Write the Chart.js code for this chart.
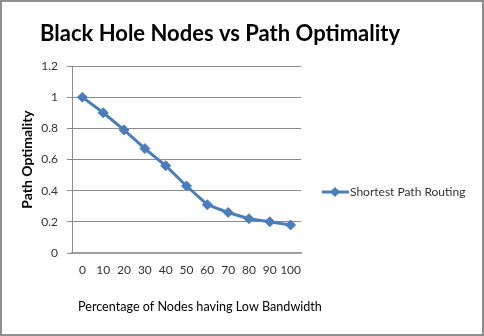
<!DOCTYPE html>
<html>
<head>
<meta charset="utf-8">
<script src="https://cdn.jsdelivr.net/npm/chart.js@4/dist/chart.umd.min.js"></script>
<style>
  html, body { margin: 0; padding: 0; background: #fff; }
  #wrap { width: 484px; height: 336px; box-sizing: border-box; border: 2px solid #8e8e8e; background: #fff; }
  canvas { display: block; }
</style>
</head>
<body>
<div id="wrap"><canvas id="chart" width="480" height="332"></canvas></div>
<script>
const chartTitle = 'Black Hole Nodes vs Path Optimality';
const xTitle = 'Percentage of Nodes having Low Bandwidth';
const yTitle = 'Path Optimality';
const seriesName = 'Shortest Path Routing';
const categories = ['0', '10', '20', '30', '40', '50', '60', '70', '80', '90', '100'];
const optimality = [1.0, 0.9, 0.79, 0.67, 0.56, 0.43, 0.31, 0.26, 0.22, 0.2, 0.18];
const yTickLabels = ['0', '0.2', '0.4', '0.6', '0.8', '1', '1.2'];

const lineColor = '#4a7ebb';
const font = 'Lato';

// chart title, x title and legend are drawn by hand so they sit where the original has them
const textPlugin = {
    id: 'textPlugin',
    afterDraw(chart) {
        const ctx = chart.ctx;
        ctx.save();
        ctx.fillStyle = '#000';
        ctx.font = 'bold 22px ' + font;
        ctx.textBaseline = 'middle';
        ctx.textAlign = 'left';
        ctx.fillText(chartTitle, 38, 32);

        ctx.font = '12.6px ' + font;
        ctx.fillText(xTitle, 76, 305);

        // legend entry
        const ds = chart.data.datasets[0];
        const y = 190;
        ctx.strokeStyle = ds.borderColor;
        ctx.lineWidth = 3;
        ctx.beginPath();
        ctx.moveTo(320, y);
        ctx.lineTo(347, y);
        ctx.stroke();
        ctx.fillStyle = ds.borderColor;
        ctx.beginPath();
        ctx.moveTo(333, y - 5);
        ctx.lineTo(338, y);
        ctx.lineTo(333, y + 5);
        ctx.lineTo(328, y);
        ctx.closePath();
        ctx.fill();
        ctx.fillStyle = '#333';
        ctx.font = '12px ' + font;
        ctx.fillText(ds.label, 348, y);
        ctx.restore();
    }
};

new Chart(document.getElementById('chart'), {
    type: 'line',
    data: {
        labels: categories,
        datasets: [{
            label: seriesName,
            data: optimality,
            borderColor: lineColor,
            backgroundColor: lineColor,
            borderWidth: 3,
            pointStyle: 'rectRot',
            pointRadius: 5,
            pointBorderWidth: 1,
            tension: 0
        }]
    },
    options: {
        responsive: false,
        animation: false,
        layout: { padding: { top: 64, right: 181, bottom: 20, left: 0 } },
        plugins: {
            legend: { display: false },
            title: { display: false },
            tooltip: { enabled: false }
        },
        scales: {
            x: {
                offset: true,
                grid: { display: false, drawTicks: false },
                border: { display: true, color: '#a0a0a0', width: 2 },
                ticks: { padding: 10, color: '#333', font: { family: font, size: 12 }, maxRotation: 0, autoSkip: false },
                afterFit(scale) { scale.height = 61; }
            },
            y: {
                min: 0,
                max: 1.2,
                ticks: {
                    stepSize: 0.2,
                    padding: 9,
                    color: '#333',
                    font: { family: font, size: 12 },
                    callback: (v, i) => yTickLabels[i]
                },
                grid: { color: '#8c8c8c', tickLength: 5, tickColor: '#8c8c8c' },
                border: { display: true, color: '#8c8c8c', width: 1 },
                title: { display: true, text: yTitle, color: '#000', padding: { top: 17, bottom: 0 }, font: { family: font, size: 14, weight: 'bold' } },
                afterFit(scale) { scale.width = 70; }
            }
        }
    },
    plugins: [textPlugin]
});
</script>
</body>
</html>
